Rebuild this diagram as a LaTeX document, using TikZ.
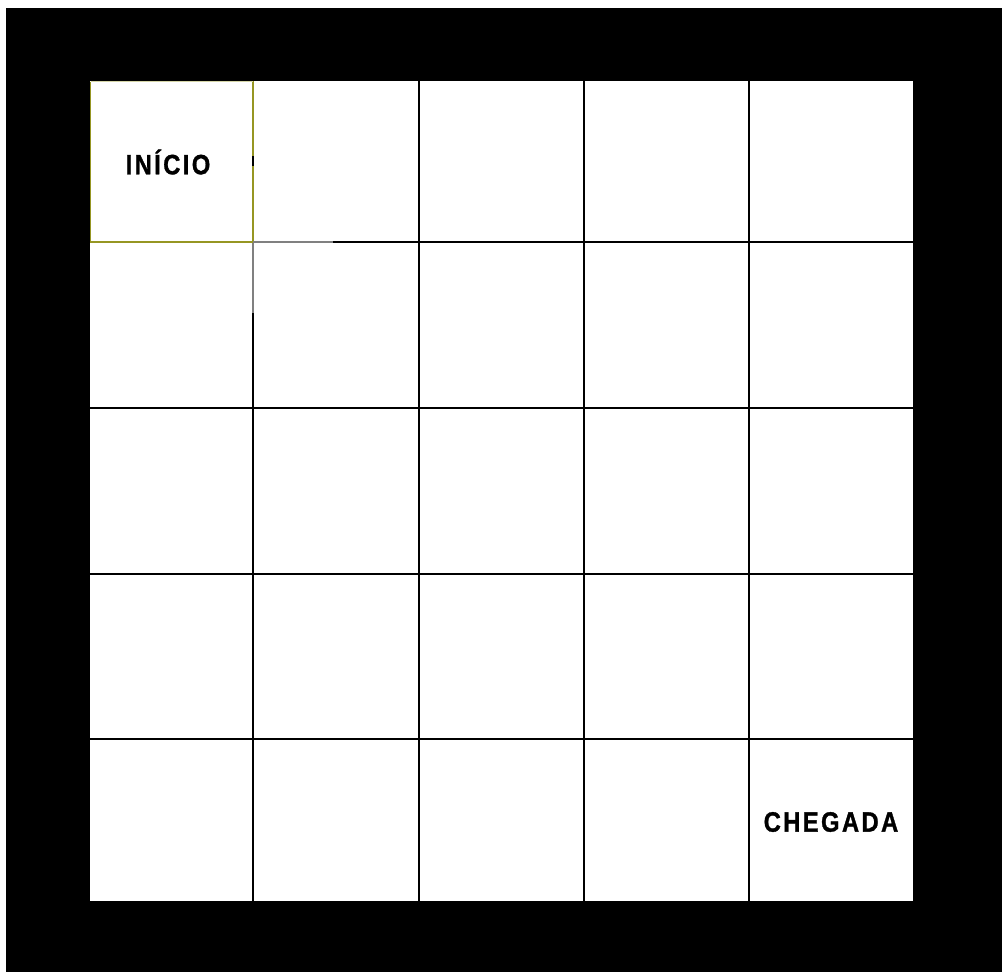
\documentclass[tikz,border=0pt]{standalone}
\usepackage{fontspec}
\newfontfamily\boardfont[LetterSpace=10,FakeBold=1.2]{Liberation Sans Bold}
\definecolor{olivebd}{RGB}{150,150,35}
\definecolor{greyln}{RGB}{128,128,128}
\tikzset{
  gridln/.style={line width=2.2pt, black},
  olivln/.style={line width=2.2pt, olivebd},
  greyseg/.style={line width=2.2pt, greyln},
  label/.style={font=\boardfont\fontsize{28}{28}\selectfont, xscale=0.85, inner sep=0pt}
}
\begin{document}
\begin{tikzpicture}[x=1pt,y=-1pt]
\useasboundingbox (0,0) rectangle (1002,972);
\fill[white] (0,0) rectangle (1002,972);
\fill[black] (6,8) rectangle (1002,972);
\fill[white] (90,81) rectangle (913,901);
% vertical lines
\foreach \x in {419,584,749} \draw[gridln] (\x,81) -- (\x,901);
\draw[gridln] (253,313) -- (253,901);
\draw[greyseg] (253,242) -- (253,313);
\draw[olivln] (253,81) -- (253,242);
\draw[gridln] (253,156) -- (253,166);
% horizontal lines
\foreach \y in {408,574,739} \draw[gridln] (90,\y) -- (913,\y);
\draw[gridln] (333,242) -- (913,242);
\draw[greyseg] (253,242) -- (333,242);
\draw[olivln] (90,242) -- (253,242);
\draw[olivebd, line width=1pt] (90.5,81.5) -- (90.5,242);
\draw[olivebd!40, line width=1pt] (90.5,81.5) -- (253,81.5);
% labels
\node[label] (inicio) at (168,162) {INÍCIO};
\node[label] (chegada) at (831,822) {CHEGADA};
\end{tikzpicture}
\end{document}
